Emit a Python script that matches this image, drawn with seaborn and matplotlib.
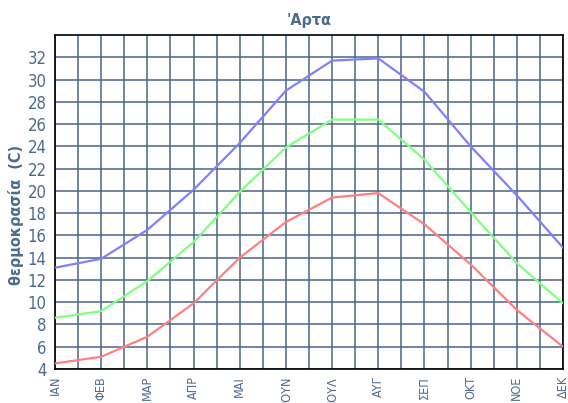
import pandas as pd
import numpy as np
import matplotlib
matplotlib.use("Agg")
import matplotlib.pyplot as plt
import seaborn as sns

# Datos
meses = ['ΙΑΝ', 'ΦΕΒ', 'ΜΑΡ', 'ΑΠΡ', 'ΜΑΙ', 'ΙΟΥΝ', 'ΙΟΥΛ', 'ΑΥΓ', 'ΣΕΠ', 'ΟΚΤ', 'ΝΟΕ', 'ΔΕΚ']
temp_max = [13.1, 13.9, 16.5, 20.1, 24.3, 29.0, 31.7, 31.9, 28.9, 24.0, 19.6, 14.9]
temp_media = [8.6, 9.2, 11.9, 15.4, 19.9, 23.9, 26.4, 26.4, 22.8, 18.1, 13.5, 9.9]
temp_min = [4.5, 5.1, 6.9, 9.9, 14.0, 17.2, 19.4, 19.8, 17.0, 13.4, 9.3, 6.0]

df = pd.DataFrame({
    'mes': list(range(12)) * 3,
    'temp': temp_max + temp_media + temp_min,
    'serie': ['max'] * 12 + ['media'] * 12 + ['min'] * 12,
})

sns.set_style("white")
plt.rcParams['font.family'] = ['DejaVu Sans']
plt.rcParams['font.stretch'] = 'condensed'

color_texto = '#4d6a8c'
color_grid = '#4a6585'

fig = plt.figure(figsize=(5.68, 4.03), dpi=100)
ax = fig.add_axes([55 / 568, 34 / 403, 508 / 568, 334 / 403])

sns.lineplot(data=df, x='mes', y='temp', hue='serie', ax=ax,
             palette={'max': '#8080ff', 'media': '#80ff80', 'min': '#ff8080'},
             linewidth=1.6, legend=False, zorder=3)

ax.set_xlim(0, 11)
ax.set_ylim(4, 34)
ax.set_yticks(range(4, 33, 2))
ax.set_xticks(range(12))
ax.set_xticklabels(meses, rotation=90, fontstretch='condensed')
ax.set_xticks(np.arange(0.5, 11, 1), minor=True)

ax.grid(True, which='both', color=color_grid, linewidth=1.1)
ax.set_axisbelow(True)
for s in ax.spines.values():
    s.set_color('black')
    s.set_linewidth(1.2)

ax.tick_params(axis='both', which='major', direction='out', length=4, width=1,
               color=color_grid, labelcolor=color_texto, pad=2)
ax.tick_params(axis='y', labelsize=12)
ax.tick_params(axis='x', labelsize=9, pad=1)
ax.tick_params(axis='x', which='minor', length=0)

ax.set_xlabel('')
ax.set_ylabel('θερμοκρασία  (C)', color=color_texto, fontsize=11.5, fontweight='bold')
ax.yaxis.set_label_coords(-0.062, 0.46)
ax.set_title("'Αρτα", color=color_texto, fontsize=11.5, fontweight='bold', pad=7)

fig.savefig('out.png', dpi=100)
